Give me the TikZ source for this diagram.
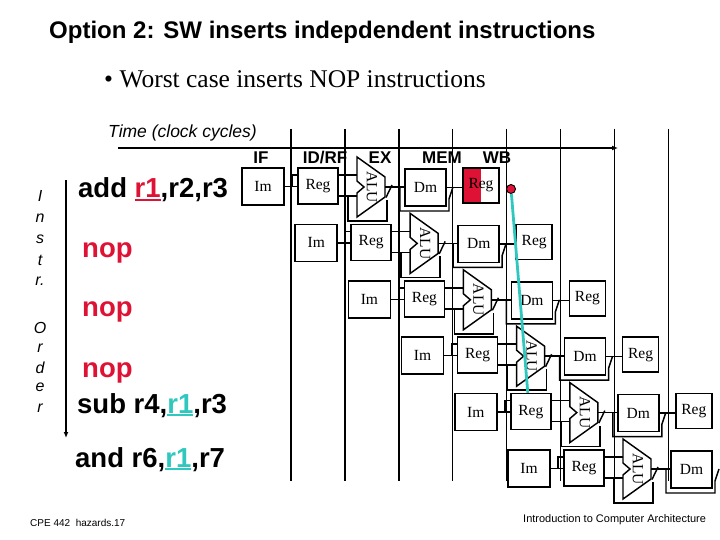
\documentclass[tikz,border=0pt]{standalone}
\usepackage{fontspec}
\setmainfont{Liberation Serif}
\setsansfont{Liberation Sans}
\usetikzlibrary{arrows.meta}
\definecolor{hred}{RGB}{222,18,52}
\definecolor{hcyan}{RGB}{48,200,190}
\newcommand\myul[2]{\textcolor{#1}{\setbox0\hbox{#2}\rlap{\rule[-3.2pt]{\wd0}{2.3pt}}\box0}}
\begin{document}
\begin{tikzpicture}[x=1pt,y=-1pt,
  box/.style={draw,line width=1.45pt,fill=white,inner sep=0pt,font=\fontsize{15.5}{15.5}\selectfont},
  wire/.style={line width=1.45pt},
  gridline/.style={line width=1.45pt},
  stage/.style={font=\sffamily\bfseries\fontsize{17}{17}\selectfont,anchor=base,inner sep=0pt},
  instr/.style={font=\sffamily\bfseries\fontsize{27.5}{27.5}\selectfont,anchor=base west,inner sep=0pt},
  ord/.style={font=\sffamily\itshape\fontsize{16}{16}\selectfont,inner sep=0pt},
  alut/.style={rotate=-90,font=\fontsize{15.5}{15.5}\selectfont,inner sep=0pt},
  wbfill0/.style={path picture={\fill[hred] (path picture bounding box.north west) rectangle ([xshift=18pt]path picture bounding box.south west);}},
  wbfill1/.style={}, wbfill2/.style={}, wbfill3/.style={}, wbfill4/.style={},
  arr/.style={line width=1.6pt,-{Latex[length=6pt,width=5pt]}}
]
\useasboundingbox (0,0) rectangle (720,540);

% title and bullet
\node[font=\sffamily\bfseries\fontsize{24}{24}\selectfont,anchor=base west,inner sep=0pt] (title) at (49,39) {Option 2: SW inserts indepdendent instructions};
\node[font=\fontsize{25.5}{25.5}\selectfont,anchor=base west,inner sep=0pt] (bullet) at (104,88) {\textbullet\ Worst case inserts NOP instructions};

% clock grid
\foreach \k in {0,...,7}{
  \coordinate (gt\k) at ({291+53.9*\k},129);
  \coordinate (gb\k) at ({291+53.9*\k},481);
  \draw[gridline] (gt\k) -- (gb\k);
}
\coordinate (ax0) at (118,148);
\coordinate (ax1) at (618,148);
\draw[arr] (ax0) -- (ax1);
\node[font=\sffamily\itshape\fontsize{17.5}{17.5}\selectfont,anchor=base west,inner sep=0pt] (time) at (108,138) {Time (clock cycles)};

% pipeline rows
\foreach \i in {0,...,5}{
\begin{scope}[shift={({53.2*\i},{56.4*\i})}]
  \draw[wire] (348,196) -- (348,221) -- (387,221) -- (387,200);
  \draw[wire] (400,187) -- (400,211) -- (449,211) -- (449,199) -- (453,187);
  \node[box,minimum width=42pt,minimum height=37pt] (im\i) at (263,186.5) {Im};
  \node[box,minimum width=40pt,minimum height=36pt] (rg\i) at (318,186) {Reg};
  \draw[wire] (im\i.east) -- (im\i.east -| rg\i.west);
  \draw[wire] (292,187) -- (292,175) -- (298,175);
  \coordinate (ai\i) at (357,175);
  \coordinate (aj\i) at (357,196);
  \draw[wire] (rg\i.east |- ai\i) -- (ai\i);
  \draw[wire] (rg\i.east |- aj\i) -- (aj\i);
  \draw[wire,fill=white] (357,157) -- (385,177) -- (385,197) -- (357,217) -- (357,193) -- (364,187) -- (357,181) -- cycle;
  \node[alut] (alu\i) at (372,187) {ALU};
  \node[box,minimum width=41pt,minimum height=37pt] (dm\i) at (425.5,187.5) {Dm};
  \coordinate (ao\i) at (385,187);
  \draw[wire] (ao\i) -- (ao\i -| dm\i.west);
  \draw[wire] (386,197.5) -- (392,185);
  \ifnum\i<5
    \node[box,wbfill\i,minimum width=36pt,minimum height=35pt] (wb\i) at (481,185.5) {Reg};
    \draw[wire] (dm\i.east) -- (dm\i.east -| wb\i.west);
  \fi
\end{scope}
}

% stage labels
\node[stage] (sif) at (261,164) {IF};
\node[stage] (sid) at (325,164) {ID/RF};
\node[stage] (sex) at (380,164) {EX};
\node[stage] (smem) at (442,164) {MEM};
\node[stage] (swb) at (497,164) {WB};

% dependency
\node[circle,draw,line width=0.9pt,fill=hred,inner sep=0pt,minimum size=9pt] (dot) at (511,189) {};
\draw[hcyan,line width=2.8pt] (dot) -- ([xshift=-3pt]rg4.north);

% instruction order axis
\coordinate (oa0) at (66,180);
\coordinate (oa1) at (66,438);
\draw[arr] (oa0) -- (oa1);
\foreach \t/\yy [count=\n] in {I/196,n/218,s/239,t/260,r./281,O/328,r/348,d/368,e/387,r/408}
  \node[ord] (o\n) at (40,\yy) {\t};

% instructions
\node[instr] (add) at (78,198) {add \myul{hred}{r1},r2,r3};
\node[instr,text=hred] (nop1) at (82,257) {nop};
\node[instr,text=hred] (nop2) at (82,316) {nop};
\node[instr,text=hred] (nop3) at (82,377) {nop};
\node[instr] (sub) at (77,413) {sub r4,\myul{hcyan}{r1},r3};
\node[instr] (and) at (75,467) {and r6,\myul{hcyan}{r1},r7};

% footer
\node[font=\sffamily\fontsize{10}{10}\selectfont,anchor=base west,inner sep=0pt] (foot1) at (30,526) {CPE 442\ \ hazards.17};
\node[font=\sffamily\fontsize{11}{11}\selectfont,anchor=base west,inner sep=0pt] (foot2) at (523,522) {Introduction to Computer Architecture};
\end{tikzpicture}
\end{document}
